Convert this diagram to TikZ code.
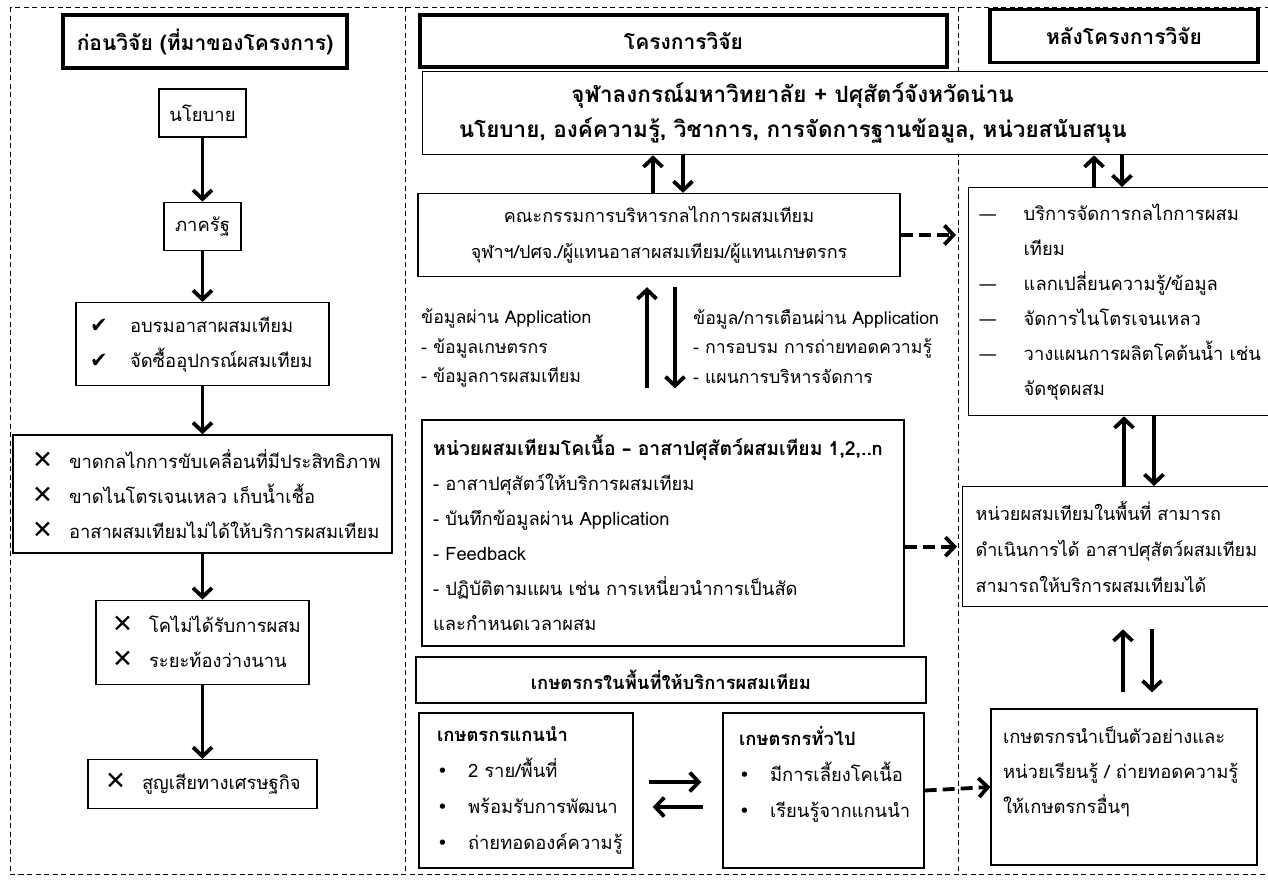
\documentclass[tikz,border=0pt]{standalone}
\usepackage{fontspec}
\setmainfont{Loma}[Script=Thai]
\newfontfamily\dingfont{DejaVu Sans}
\usetikzlibrary{arrows.meta,positioning}

\newcommand{\yesmark}{\makebox[40pt][l]{\dingfont\fontsize{21}{21}\selectfont ✔}}
\newcommand{\nomark}{\makebox[37pt][l]{\dingfont\fontsize{25}{25}\selectfont ✕}}
\newcommand{\dotitem}{\makebox[31pt][l]{\dingfont •}}
\newcommand{\dashitem}{\makebox[45pt][l]{\dingfont —}}

\begin{document}
\begin{tikzpicture}[x=1pt, y=-1pt,
    font=\fontsize{18.4}{35}\selectfont,
    box/.style={draw, fill=white, line width=1.3pt, inner sep=0pt},
    listbox/.style={box, align=left},
    headbox/.style={draw, fill=white, line width=3.2pt, inner sep=0pt, font=\fontsize{21}{24}\selectfont\bfseries},
    note/.style={align=left, inner sep=0pt, anchor=north west, font=\fontsize{17.7}{29.5}\selectfont},
    arr/.style={line width=3.8pt, -{Straight Barb[length=9pt,width=19pt]}},
    darr/.style={arr, dash pattern=on 12pt off 6pt},
    divider/.style={line width=0.8pt, dash pattern=on 5pt off 3.5pt},
  ]
  \useasboundingbox (0,0) rectangle (1268,879);
  \draw[divider] (10,7) rectangle (1290,874);
  \draw[divider] (405,7) -- (405,874);
  \draw[divider] (958,7) -- (958,874);

  % before the project
  \node[headbox, minimum width=284, minimum height=53] (lhead) at (205,41.5) {ก่อนวิจัย (ที่มาของโครงการ)};
  \node[box, minimum width=87, minimum height=48] (policy) at (202.5,113) {นโยบาย};
  \node[box, minimum width=77, minimum height=48, below=64pt of policy] (state) {ภาครัฐ};
  \node[listbox, minimum width=253, minimum height=83, text width=225, below=51pt of state] (training)
    {\yesmark อบรมอาสาผสมเทียม\\ \yesmark จัดซื้ออุปกรณ์ผสมเทียม};
  \node[listbox, minimum width=379, minimum height=118, text width=341, below=48pt of training] (gaps)
    {\nomark ขาดกลไกการขับเคลื่อนที่มีประสิทธิภาพ\\ \nomark \mbox{ขาดไนโตรเจนเหลว เก็บน้ำเชื้อ}\\ \nomark อาสาผสมเทียมไม่ได้ให้บริการผสมเทียม};
  \node[listbox, minimum width=213, minimum height=84, text width=181, below=46pt of gaps] (cows)
    {\nomark โคไม่ได้รับการผสม\\ \nomark ระยะท้องว่างนาน};
  \node[listbox, minimum width=229, minimum height=49, text width=195, below=74pt of cows] (loss)
    {\nomark สูญเสียทางเศรษฐกิจ};

  \draw[arr] (policy) -- (state);
  \draw[arr] (state) -- (training);
  \draw[arr] (training) -- (gaps);
  \draw[arr] (gaps) -- (cows);
  \draw[arr] (cows) -- (loss);

  % research project
  \node[headbox, minimum width=527, minimum height=52] (mhead) at (683.5,41) {โครงการวิจัย};
  \node[headbox, minimum width=268, minimum height=53] (rhead) at (1124,36) {หลังโครงการวิจัย};
  \node[box, anchor=north west, minimum height=83, text width=868, align=left,
        font=\fontsize{22.5}{35}\selectfont\bfseries] (partners) at (422,71)
    {\makebox[740pt]{จุฬาลงกรณ์มหาวิทยาลัย + ปศุสัตว์จังหวัดน่าน}\\
     \makebox[740pt]{นโยบาย, องค์ความรู้, วิชาการ, การจัดการฐานข้อมูล, หน่วยสนับสนุน}};
  \node[box, minimum width=482, minimum height=83, align=center, font=\fontsize{18}{36}\selectfont] (committee) at (659,235)
    {คณะกรรมการบริหารกลไกการผสมเทียม\\จุฬาฯ/ปศจ./ผู้แทนอาสาผสมเทียม/ผู้แทนเกษตรกร};
  \node[note] (appin) at (421,309) {ข้อมูลผ่าน Application\\- ข้อมูลเกษตรกร\\- ข้อมูลการผสมเทียม};
  \node[note] (appout) at (693,309) {ข้อมูล/การเตือนผ่าน Application\\- การอบรม การถ่ายทอดความรู้\\- แผนการบริหารจัดการ};
  \node[listbox, minimum width=482, minimum height=226, text width=460] (unit) at (663,533)
    {\mbox{\fontsize{19.4}{35}\selectfont\bfseries หน่วยผสมเทียมโคเนื้อ {\dingfont –} อาสาปศุสัตว์ผสมเทียม 1,2,..n}\\
     - อาสาปศุสัตว์ให้บริการผสมเทียม\\
     - บันทึกข้อมูลผ่าน Application\\
     - Feedback\\
     - ปฏิบัติตามแผน เช่น การเหนี่ยวนำการเป็นสัด\\
     และกำหนดเวลาผสม};
  \node[box, minimum width=510, minimum height=46, font=\fontsize{18.4}{24}\selectfont\bfseries] (farmers) at (671,680)
    {เกษตรกรในพื้นที่ให้บริการผสมเทียม};
  \node[listbox, minimum width=214, minimum height=155, text width=178, font=\fontsize{18.4}{36}\selectfont] (leader) at (526,790.5)
    {\textbf{เกษตรกรแกนนำ}\\ \dotitem 2 ราย/พื้นที่\\ \dotitem พร้อมรับการพัฒนา\\ \dotitem ถ่ายทอดองค์ความรู้};
  \node[listbox, minimum width=201, minimum height=155, text width=169, font=\fontsize{18.4}{36}\selectfont] (general) at (823.5,790.5)
    {\textbf{เกษตรกรทั่วไป}\\ \dotitem มีการเลี้ยงโคเนื้อ\\ \dotitem เรียนรู้จากแกนนำ\\ \mbox{}};

  % after the project
  \node[listbox, anchor=north west, minimum width=322, minimum height=228, text width=302, inner xsep=10pt] (service) at (968,187)
    {\dashitem บริการจัดการกลไกการผสม\\ \hspace*{45pt}เทียม\\ \dashitem แลกเปลี่ยนความรู้/ข้อมูล\\
     \dashitem จัดการไนโตรเจนเหลว\\ \dashitem \mbox{วางแผนการผลิตโคต้นน้ำ เช่น}\\ \hspace*{45pt}จัดชุดผสม};
  \node[listbox, anchor=north west, minimum width=328, minimum height=120, text width=302, inner xsep=13pt,
        font=\fontsize{18}{36}\selectfont] (area) at (962,486)
    {\mbox{หน่วยผสมเทียมในพื้นที่ สามารถ}\\\mbox{ดำเนินการได้ อาสาปศุสัตว์ผสมเทียม}\\สามารถให้บริการผสมเทียมได้};
  \node[listbox, minimum width=266, minimum height=156, text width=242] (example) at (1124,787)
    {เกษตรกรนำเป็นตัวอย่างและ\\\mbox{หน่วยเรียนรู้ / ถ่ายทอดความรู้}\\ให้เกษตรกรอื่นๆ\\ \mbox{}};

  \coordinate (xa) at (653,0);  \coordinate (xb) at (683,0);
  \coordinate (xc) at (647,0);  \coordinate (xd) at (675,0);
  \coordinate (xe) at (1094,0); \coordinate (xf) at (1122,0);
  \coordinate (xg) at (1124,0); \coordinate (xh) at (1154,0);
  \coordinate (xi) at (1123,0); \coordinate (xj) at (1152,0);
  \coordinate (ya) at (0,782);  \coordinate (yb) at (0,807);

  \draw[arr] (committee.north -| xa) -- (partners.south -| xa);
  \draw[arr] (partners.south -| xb) -- (committee.north -| xb);
  \draw[arr, shorten <=31pt, shorten >=10pt] (unit.north -| xc) -- (committee.south -| xc);
  \draw[arr, shorten <=10pt, shorten >=31pt] (committee.south -| xd) -- (unit.north -| xd);
  \draw[arr] (service.north -| xe) -- (partners.south -| xe);
  \draw[arr] (partners.south -| xf) -- (service.north -| xf);
  \draw[arr] (area.north -| xg) -- (service.south -| xg);
  \draw[arr] (service.south -| xh) -- (area.north -| xh);
  \draw[arr, shorten <=16pt, shorten >=22pt] (example.north -| xi) -- (area.south -| xi);
  \draw[arr, shorten <=22pt, shorten >=16pt] (area.south -| xj) -- (example.north -| xj);
  \draw[arr, shorten <=15pt, shorten >=21pt] (leader.east |- ya) -- (general.west |- ya);
  \draw[arr, shorten <=19pt, shorten >=19pt] (general.west |- yb) -- (leader.east |- yb);

  \draw[darr, shorten >=12pt] (committee.east) -- (committee.east -| service.west);
  \draw[darr, shorten >=5pt] (unit.east |- area.west) -- (area.west);
  \draw[darr] (general.east) -- (example.west);
\end{tikzpicture}
\end{document}
